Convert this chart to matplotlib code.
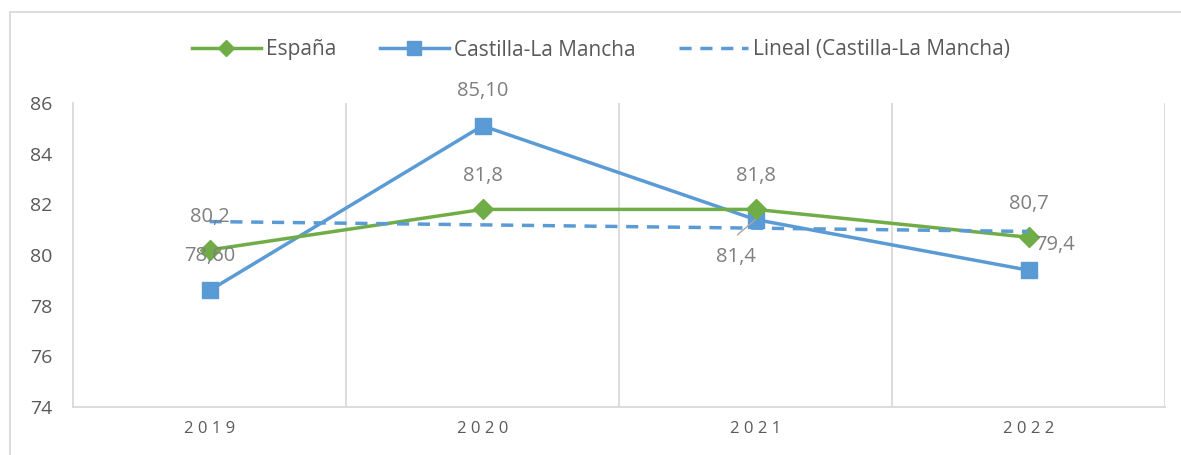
import numpy as np
import matplotlib
matplotlib.use("Agg")
import matplotlib.pyplot as plt
from matplotlib.patches import Rectangle

years = ["2019", "2020", "2021", "2022"]
espana = [80.2, 81.8, 81.8, 80.7]
clm = [78.6, 85.1, 81.4, 79.4]
clm_labels = ["78,60", "85,10", "81,4", "79,4"]
esp_labels = ["80,2", "81,8", "81,8", "80,7"]
yticks = [74, 76, 78, 80, 82, 84, 86]

GREEN = "#70AD47"
BLUE = "#5B9BD5"
TXT = "#595959"
LBL = "#7F7F7F"
GRID = "#D9D9D9"

plt.rcParams['font.family'] = ['Open Sans', 'DejaVu Sans']

fig = plt.figure(figsize=(11.81, 4.55), dpi=100)
ax = fig.add_axes([73/1181, 1-407/455, (1165-73)/1181, (407-103)/455])

x = np.arange(len(years))
coef = np.polyfit(x, clm, 1)
trend = np.polyval(coef, x)

l1, = ax.plot(x, espana, color=GREEN, lw=2.5, marker="D", ms=10, zorder=4, label="España")
l2, = ax.plot(x, clm, color=BLUE, lw=2.5, marker="s", ms=12, zorder=3, label="Castilla-La Mancha")
l3, = ax.plot(x, trend, color=BLUE, lw=2.5, ls=(0, (3.5, 2.5)), zorder=5,
              label="Lineal (Castilla-La Mancha)")

ax.set_xlim(-0.5, len(years) - 0.5)
ax.set_ylim(74, 86)
ax.set_yticks(yticks)
ax.set_yticklabels([str(v) for v in yticks], fontsize=14, color=TXT)
ax.set_xticks(x)
ax.set_xticklabels([" ".join(y) for y in years], fontsize=12, color=TXT)
ax.tick_params(length=0)
ax.tick_params(axis='y', pad=15)
ax.tick_params(axis='x', pad=10)

for b in np.arange(0.5, len(years), 1.0):
    ax.axvline(b, color=GRID, lw=1.3, zorder=0)
for s in ["top", "right"]:
    ax.spines[s].set_visible(False)
for s in ["left", "bottom"]:
    ax.spines[s].set_color(GRID)
    ax.spines[s].set_linewidth(1.3)

fs = 14.5
# España labels (above)
for xi, v, t in zip(x, espana, esp_labels):
    ax.annotate(t, (xi, v), xytext=(0, 24), textcoords="offset points",
                ha="center", va="center", fontsize=fs, color=LBL, zorder=6)
# CLM labels
offs = [(0, 25), (0, 25), (-14, -27), (19, 18)]
for xi, v, t, o in zip(x, clm, clm_labels, offs):
    ax.annotate(t, (xi, v), xytext=o, textcoords="offset points",
                ha="center", va="center", fontsize=fs, color=LBL, zorder=6)
# leader line for 81,4
ax.annotate("", (x[2], clm[2]), xytext=(-13, -11), textcoords="offset points",
            arrowprops=dict(arrowstyle="-", color="#A6A6A6", lw=1.0,
                            shrinkA=0, shrinkB=0), zorder=6)

fig.legend(handles=[l1, l2, l3], loc="center", bbox_to_anchor=(601/1181, 1-50/455),
           ncol=3, frameon=False, fontsize=15, labelcolor=TXT, markerscale=0.8,
           handlelength=3.3, columnspacing=2.1, handletextpad=0.25)

fig.add_artist(Rectangle((10/1181, -0.2), 1.2, 1-12/455+0.2, transform=fig.transFigure,
                         fill=False, edgecolor=GRID, lw=1.3))

fig.savefig("out.png", dpi=100)
